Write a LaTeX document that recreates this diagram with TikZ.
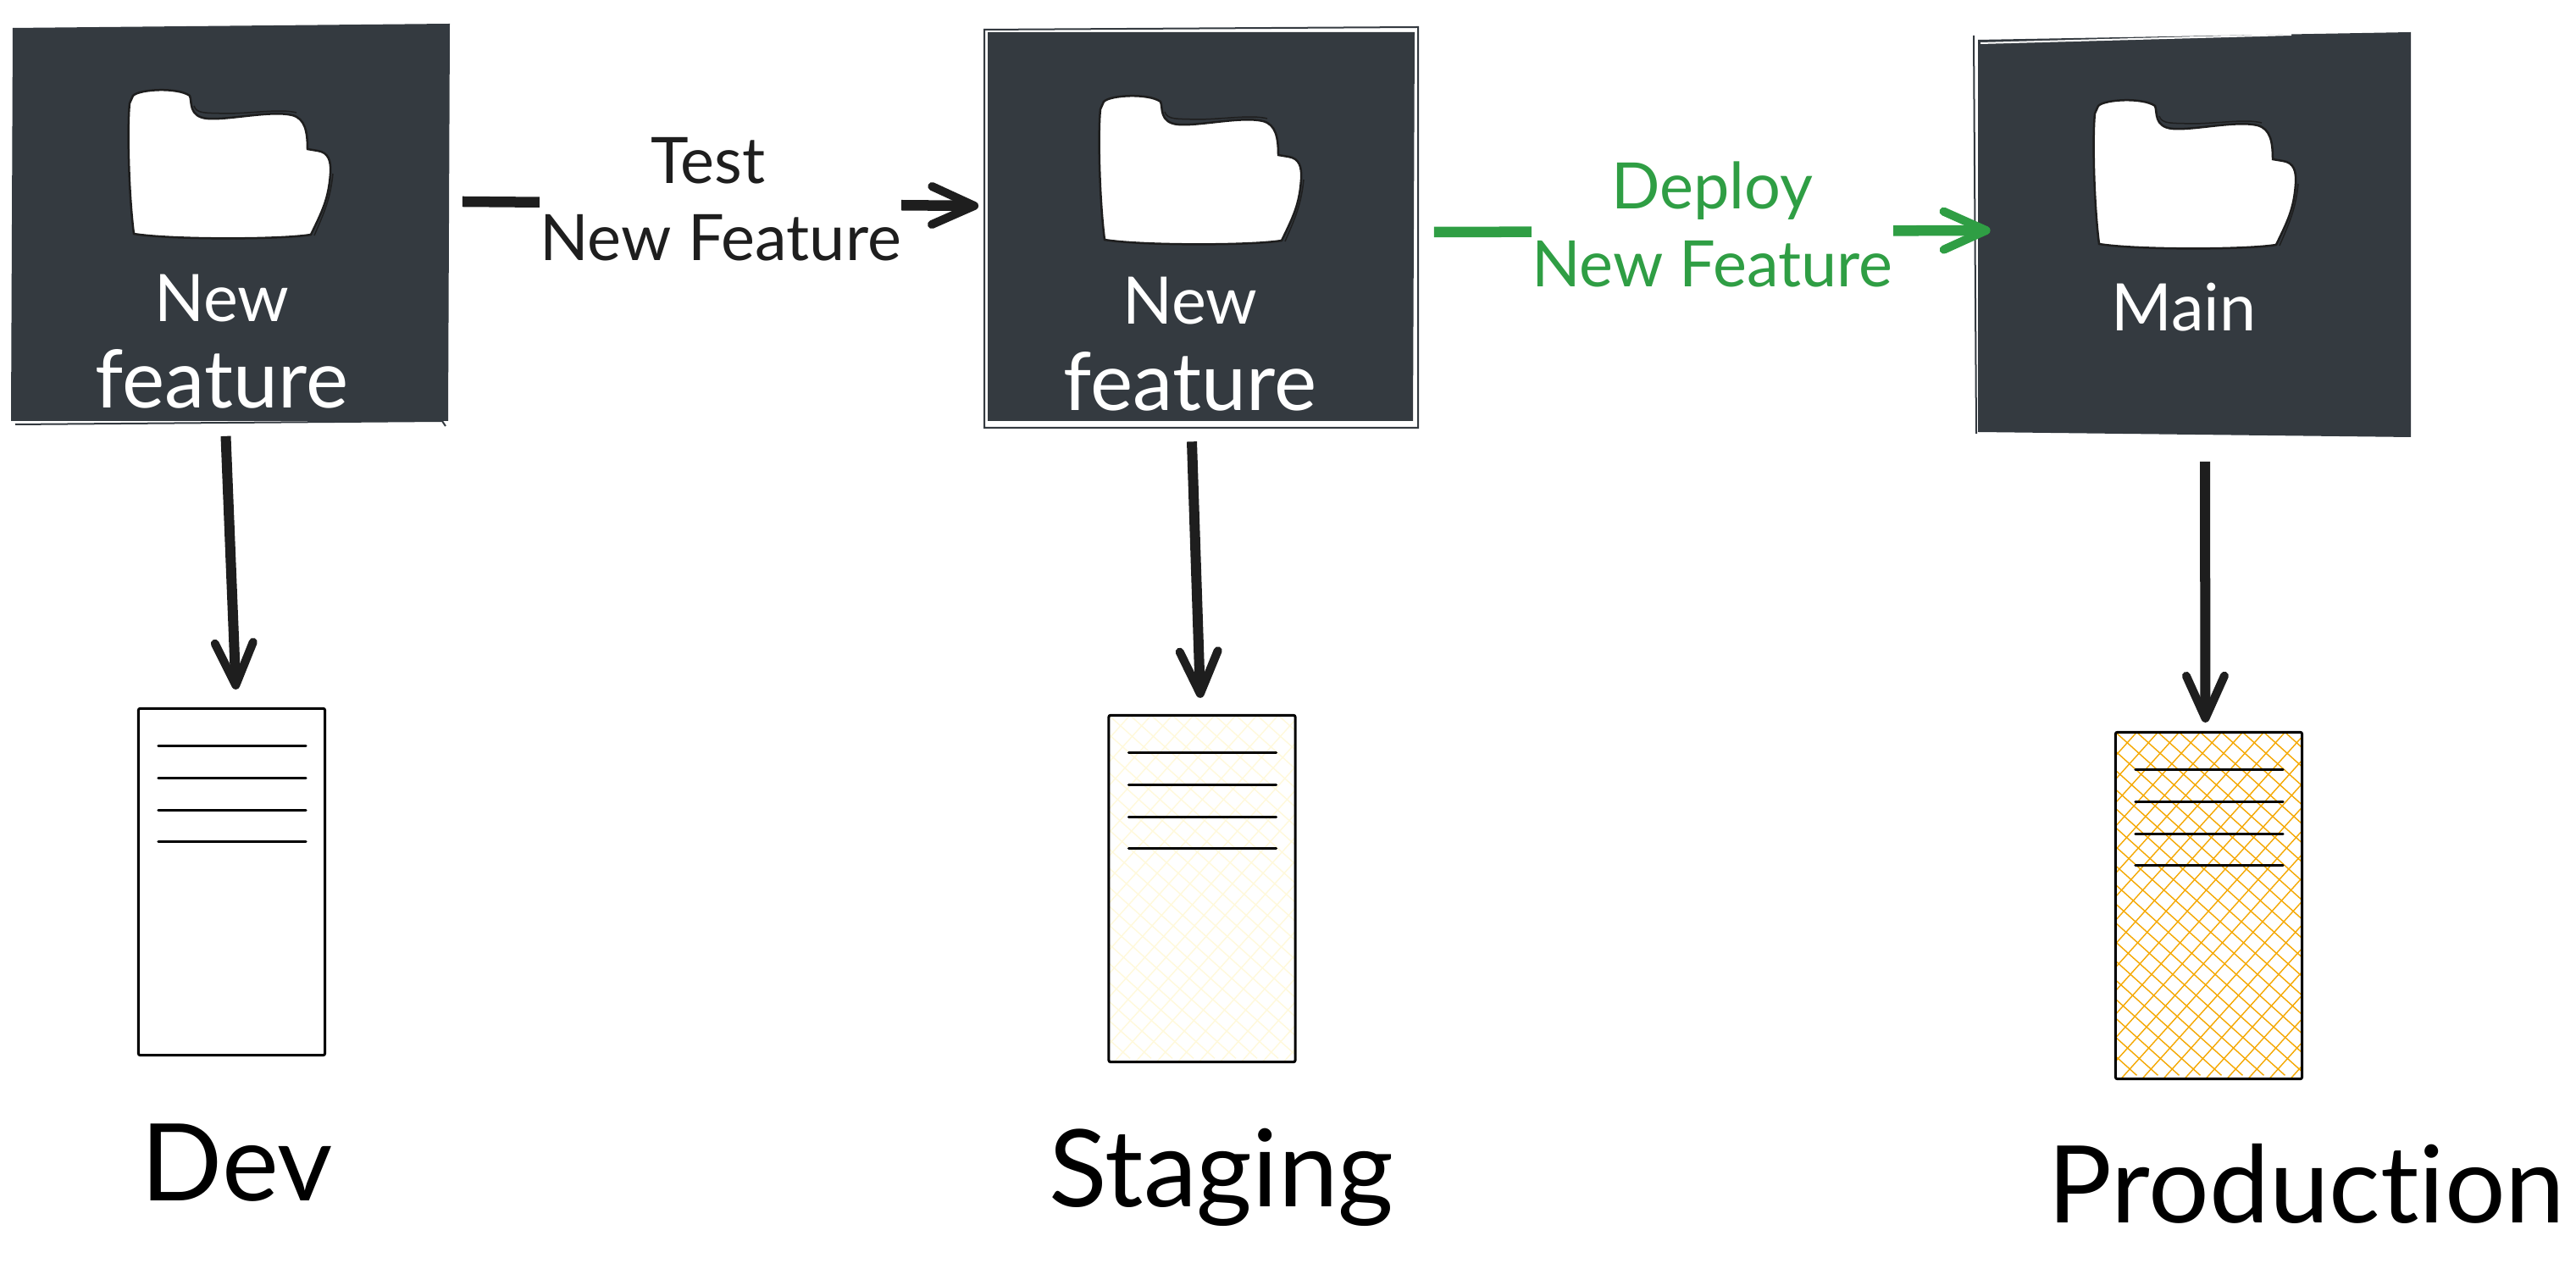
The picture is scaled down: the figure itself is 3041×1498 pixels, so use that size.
\documentclass[tikz,border=0pt]{standalone}
\usepackage{fontspec}
\setmainfont[Ligatures=CommonOff]{Lato}
\usetikzlibrary{arrows.meta}
\definecolor{slate}{HTML}{343A40}
\definecolor{ink}{HTML}{1E1E1E}
\definecolor{leaf}{HTML}{2F9E44}
\definecolor{amber}{HTML}{F5A800}
\definecolor{cream}{HTML}{FFF9DB}
\tikzset{%
  boxfill/.style   = {fill=slate},%
  boxnode/.style   = {inner sep=0pt},%
  boxtext/.style   = {inner sep=0pt, align=center, text=white, font=\fontsize{27}{29}\selectfont},%
  sketch/.style    = {draw=slate, line width=0.02cm},%
  flow/.style      = {draw=ink, line width=0.12cm, -{Straight Barb[round,length=0.5cm,width=0.45cm,line width=0.1cm]}},%
  wideflow/.style  = {flow, line width=0.125cm},%
  flowtext/.style  = {inner xsep=0pt, inner ysep=0pt, fill=white, align=center, text=ink, font=\fontsize{21.5}{26}\selectfont},%
  srvnode/.style   = {draw=black, line width=0.03cm, rounded corners=0.02cm, fill=white, inner sep=0pt, minimum width=2.2cm, minimum height=4.09cm},%
  rackline/.style  = {draw=black, line width=0.03cm, line cap=round},%
  srvtext/.style   = {inner sep=0pt, text=black, font=\fontsize{36}{38}\selectfont},%
  hatched/.style   = {path picture={%
    \foreach \d in {-425,-400,...,225}
      \draw[#1, line width=0.014cm] ([shift={(\d,0)}]path picture bounding box.north west) -- ++(450,405);
    \foreach \d in {0,25,...,700}
      \draw[#1, line width=0.014cm] ([shift={(\d,0)}]path picture bounding box.north west) -- ++(-400,444);
  }},%
  folder/.pic = {
    \path[fill=white, draw=ink, line width=0.025cm] (157,113) .. controls (165,105) and (210,103) .. (224,113)
      .. controls (227,120) and (222,138) .. (245,140) .. controls (270,142) and (320,130) .. (345,136)
      .. controls (360,140) and (363,155) .. (363,176) -- (375,178) .. controls (388,180) and (391,190) .. (390,205)
      .. controls (388,235) and (380,250) .. (367,277) .. controls (330,283) and (200,283) .. (158,276)
      .. controls (152,230) and (150,150) .. (153,122) -- cycle;
    \draw[ink, line width=0.015cm] (229,125) .. controls (232,135) and (245,133) .. (265,134) .. controls (300,134) and (330,128) .. (350,133);
    \draw[ink, line width=0.015cm] (393,205) .. controls (390,235) and (383,250) .. (371,278);
  }
}
\begin{document}
\begin{tikzpicture}[x=0.01cm,y=-0.01cm]
	\useasboundingbox (0,0) rectangle (3041,1498);
	\fill[boxfill] (15,33) -- (531,28) -- (529,497) -- (13,497) -- cycle;
	\fill[boxfill] (1166,38) -- (1670,38) -- (1668,497) -- (1166,497) -- cycle;
	\fill[boxfill] (2335,47) -- (2846,38) -- (2846,516) -- (2335,510) -- cycle;
	\draw[sketch] (18,501) -- (522,497) -- (526,503);
	\draw[sketch] (1162,35) -- (1674,32) -- (1674,505) -- (1162,505) -- cycle;
	\draw[sketch] (2330,42) -- (2333,512);
	\draw[white, line width=0.02cm] (2338,51) -- (2705,41);
	\node[boxnode, minimum width=5.17cm, minimum height=4.7cm] (devbox) at (272.5,263) {};
	\node[boxnode, minimum width=5.04cm, minimum height=4.59cm] (stagebox) at (1418,268) {};
	\node[boxnode, minimum width=5.11cm, minimum height=4.7cm] (mainbox) at (2590,277) {};
	\pic at (0,0) {folder};
	\pic at (1146,7) {folder};
	\pic at (2320,12) {folder};
	\node[boxtext] (devname) at (262,403) {{\fontsize{22}{29}\selectfont New}\\feature};
	\node[boxtext] (stagename) at (1405,406) {{\fontsize{22}{29}\selectfont New}\\feature};
	\node[boxtext, font=\fontsize{22}{27}\selectfont] (mainname) at (2578,363) {Main};
	\node[srvnode] (devsrv) at (273.5,1041) {};
	\node[srvnode, hatched=cream] (stagesrv) at (1419,1049) {};
	\node[srvnode, hatched=amber] (prodsrv) at (2607.5,1069) {};
	\foreach \n in {devsrv,stagesrv,prodsrv}
		\foreach \y in {46,84,122,159}
			\draw[rackline] ([shift={(25,\y)}]\n.north west) -- ([shift={(-24,\y)}]\n.north east);
	\node[srvtext] (devlabel) at (280,1373) {Dev};
	\node[srvtext] (stagelabel) at (1442,1390) {Staging};
	\node[srvtext] (prodlabel) at (2723,1397) {Production};
	\draw[flow] ([shift={(-6,16)}]devbox.south) -- ([shift={(5,-21)}]devsrv.north);
	\draw[flow] ([shift={(-11,23)}]stagebox.south) -- ([shift={(-2,-19)}]stagesrv.north);
	\draw[flow] ([shift={(13,32)}]mainbox.south) -- ([shift={(-4,-10)}]prodsrv.north);
	\draw[wideflow] ([shift={(14,-25)}]devbox.east) -- node[flowtext, yshift=0.05cm] (testlabel) {Test\rule{0.29cm}{0pt}\\New Feature} ([shift={(-10,-25)}]stagebox.west);
	\draw[wideflow, draw=leaf] ([shift={(22,6)}]stagebox.east) -- node[flowtext, text=leaf, yshift=0.08cm] (deploylabel) {Deploy\\New Feature} ([shift={(16,-5)}]mainbox.west);
\end{tikzpicture}
\end{document}
